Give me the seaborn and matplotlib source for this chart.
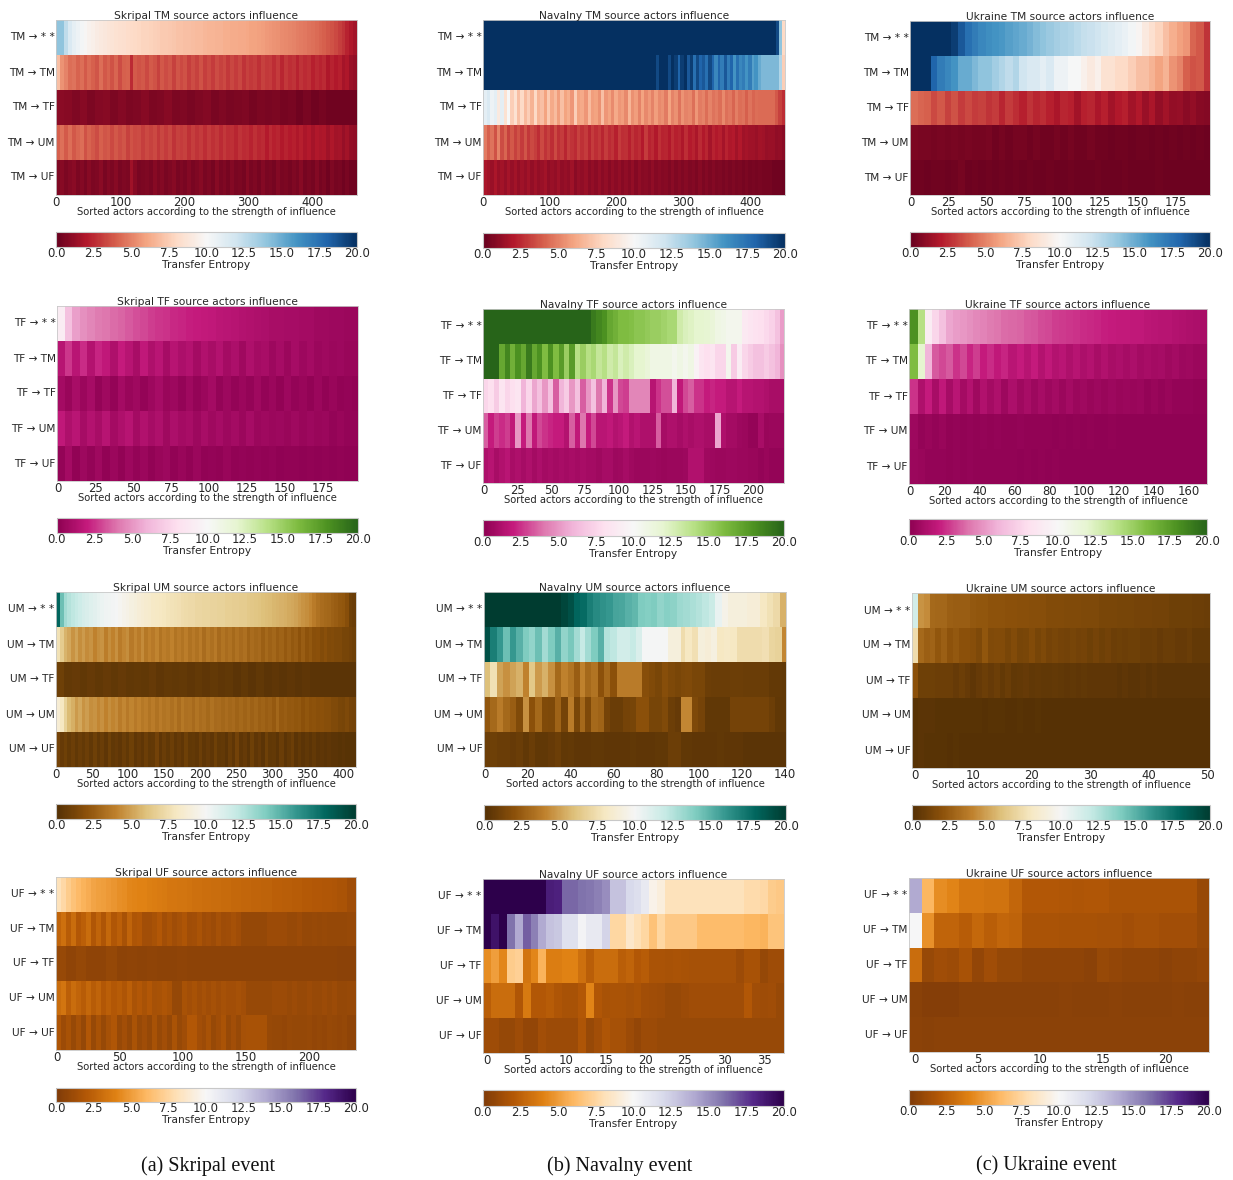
import numpy as np
import pandas as pd
import seaborn as sns
import matplotlib
matplotlib.use("Agg")
import matplotlib.pyplot as plt

# rows of each panel, values left to right
# wide panels are read as blocks of actors, a block value holds for its actors
SKRIPAL_TM_N = 470
SKRIPAL_TM = [
    [14,14,12.5,11.5,10.9,10.5,10.2,9.9,9.6,9.4,9.2,9,8.9,8.7,8.6,8.5,8.4,8.3,8.2,8.1,8,7.9,7.8,7.8,7.7,7.6,7.5,7.4,7.4,7.3,7.2,7.1,7.1,7,7,6.9,6.8,6.8,6.7,6.6,6.6,6.5,6.5,6.4,6.4,6.3,6.3,6.2,6.2,6.1,6,6,5.9,5.8,5.7,5.6,5.5,5.4,5.3,5.2,5.1,5,4.9,4.8,4.7,4.6,4.5,4.3,4.2,4,3.8,3.6,3.4,3.1,2.8,2.3,1.9,1.6],
    [7,5.5,5,4.4,4.6,4.1,4.4,3.9,4.3,4,3.7,4.4,3.8,4.1,3.6,4.2,3.5,4,4.1,2.5,3.9,3.6,3.8,3.4,3.9,3.6,3.2,3.8,3.5,3.7,3.2,3.7,3.4,3.6,3.1,3.5,3.2,3.6,3.1,3.4,3,3.5,3.2,3.4,2.9,3.3,3,3.3,2.8,3.2,2.9,3.1,2.7,3.2,2.9,3,2.6,3,2.4,2.9,2.6,2.8,2.3,2.8,2.5,2.7,2.2,2.5,2.3,2.5,1.9,2.3,2,2.2,1.7,1.9,1.4,1.2],
    [1,.9,.7,.9,.6,.8,.9,.6,.8,.6,.7,.9,.6,.7,.9,.6,.7,.5,.7,.8,.5,.7,.5,.6,.7,.4,.6,.5,.6,.4,.5,.3,.5,.3,.4,.3,.3,.3,.3],
    [4,4.5,3.9,4.4,3.8,4.2,4.4,3.6,4.1,3.8,3.5,4,3.7,3.9,3.4,3.8,3.5,3.7,3.2,3.6,3.4,3.5,3.1,3.4,3.2,3.4,2.9,3.3,3,3.3,2.8,3.2,3,3.2,2.7,3.1,2.8,3,2.6,3,2.7,2.9,2.5,2.9,2.6,2.7,2.4,2.8,2.5,2.6,2.3,2.7,2.4,2.5,2.1,2.5,2.2,2.4,2,2.3,2.1,2.2,1.9,2.2,1.8,2.1,1.7,2,1.8,1.9,1.5,1.9,1.6,1.7,1.3,1.6,1.2,1.1],
    [.7,.9,.6,.8,1,.6,.8,.5,.9,.6,.7,1,.5,.8,.6,.9,.5,.7,.6,1.5,.9,.5,.6,.7,.5,.9,.6,.8,.5,.7,.9,.5,.7,.5,.8,.5,.7,.9,.5,.7,.4,.9,.5,.7,.4,.8,.5,.6,.4,.9,.5,.7,.4,.8,.5,.6,.4,.8,.5,.6,.4,.7,.5,.9,.4,.6,.4,.8,.4,.6,.3,.7,.4,.5,.3,.5,.3,.3],
]
NAVALNY_TM_N = 453
NAVALNY_TM = [
    [20]*96 + [19,14,8],
    [20]*56 + [19,20,20,20,19,20,19.5,18,19.5,20,18.5,19.5,17.5,19,18,18.5,17.5,19,18,16.5,18,17,18.5,17,18,16,17.5,16.5,17,16,17,15.5,16,15,14.5,14.5,14.5,14.5,14.5,14.5,13,7.5],
    [11,11.5,10.5,11,9,11,8.5,10,7.5,8.5,7,8,6.8,7.5,6.5,8,6.6,7,6,7.4,6.2,6.8,5.8,7,6,6.4,5.6,7.5,6,6.2,5.6,6.8,5.8,6,5.4,7,5.6,6,5.3,6.2,5.6,5.8,5.2,6.6,5.4,5.8,5,6,5.2,5.7,5,5.8,5.2,5.4,4.8,6,5,5.4,4.6,5.5,5,5.2,4.5,5.6,4.8,5,4.4,5,4.6,4.8,4.4,5.2,4.5,4.7,4.2,4.9,4.4,4.6,4,4.6,4.2,4.4,4.3,4.3,4.3,4.3,4.3,3.8,3.2,2.6],
    [4.8,4,4.6,3.6,5,3.5,4.2,3.2,3.8,3.2,3.6,3,3.7,2.9,3.4,3.1,2.6,3.4,2.8,3.2,2.6,3.4,2.7,3,2.4,3.1,2.8,2.5,3.2,2.7,3,2.4,3,2.6,2.9,2.4,3,2.5,2.8,2.2,3,2.6,2.7,2.2,2.8,2.4,2.6,2.1,3,2.3,2.5,2,2.7,2.3,2.4,2,2.6,2.2,2.4,1.9,2.6,2.1,2.3,1.8,2.5,2,2.4,1.7,2.3,2,2.2,1.7,2.3,1.9,2.1,1.6,2,1.5,1.7,1.5,1.5,1.4,1.6,1.5,1.3,1.4,1.4,1.1,1.2,1],
    [1.8,1.6,1.4,1.8,1.4,1.6,1.3,1.7,1.3,1.6,1.2,1.5,1.3,1.6,1.2,1.5,1.2,1.4,1.6,1.1,1.4,1.2,1.5,1.1,1.3,1.1,1.5,1,1.3,1.1,1.4,1,1.2,1,1.3,1,1.2,.9,1.2,1,1.2,.9,1.1,.9,1.2,.8,1.1,.9,1,.8,1.1,.8,1,.8,.9,.7,1,.7,.9,.7,.9,.7,.8,.6,.9,.6,.8,.6,.8,.6,.7,.5,.7,.5,.7,.5,.6,.4,.6,.4,.5,.4,.5,.4,.4,.4,.3,.3,.3,.2],
]
UKRAINE_TM_N = 198
UKRAINE_TM = [
    [20,20,20,20,20,20,19.5,18.5,17.5,17,16.5,16.2,16,15.8,15.5,15.3,15,14.7,14.3,14,13.7,13.4,13.2,13,12.7,12.4,12.2,12,11.6,11.3,11,10.7,10.3,9.8,9,8.4,7.8,7,6.4,5.9,5.6,4.2,3.8,2.8],
    [20,20,20,18,17,16.5,16,15,15,14.5,14,14,13.5,13,12.5,13,12,11.5,11.5,11,11.5,10.5,10.5,10,10,9.5,9,9.5,8.5,8.5,8,8,7.5,7,7,6.5,6,6.5,5.5,5,4,3.6,3.8,2.8],
    [4.4,4.2,4,3.4,3.8,3.2,3.6,3,3.4,3,3.2,2.8,3,2.4,3,2.6,2.2,2.8,2.4,2.6,2.2,1.8,2.4,2.2,1.6,2.2,2.4,1.8,2.2,1.6,2,2.2,1.6,2,1.4,1.8,1.2,1.6,1.2,1.3,1,1.2,.9,.8],
    [.6,.5,.5,.4,.5,.4,.5,.4,.5,.4,.4,.5,.3,.4,.3,.4,.4,.3,.4,.3,.3,.4,.3,.4,.3,.3,.4,.3,.3,.2,.3,.3,.2,.3,.3,.2,.3,.2,.3,.2,.3,.2,.3,.2],
    [.3,.3,.2,.3,.3,.2,.3,.4,.2,.3,.2,.3,.2,.3,.2,.3,.2,.3,.2,.2,.3,.2,.2,.3,.2,.2,.2,.3,.2,.2,.2,.3,.2,.2,.2,.2,.3,.2,.2,.2,.2,.2,.2,.2],
]

SKRIPAL_TF_N = 199
SKRIPAL_TF = [
    [9,6.5,5.3,4.8,4.5,4.2,4,3.8,3.6,3.4,3.2,3,2.8,2.6,2.5,2.3,2.2,2.1,2,1.9,1.8,1.7,1.6,1.5,1.4,1.3,1.2,1.1,1,1,.9,.9,.8,.8,.7,.7,.6,.6,.5,.5],
    [1.5,2.6,1.6,2.4,1.4,2.2,1.8,1.2,2,1.5,1,1.8,1.2,1.6,.9,1.5,1.1,1.4,.8,1.3,1,1.4,.8,1.1,.7,1.2,.8,1,.6,.9,.5,.9,.6,.8,.5,.7,.5,.6,.4,.4],
    [.8,.4,1,.5,.9,.3,.7,.3,.8,.4,.7,.3,.6,.9,.4,.6,.3,.7,.3,.5,.8,.3,.6,.3,.5,.3,.7,.3,.5,.2,.6,.3,.4,.2,.5,.2,.4,.2,.3,.2],
    [1.8,1.2,1.6,.9,1.4,1,1.5,.8,1.2,1.5,.8,1.3,.9,1.2,.7,1.1,.8,1,.6,1,.7,.9,.6,.8,.5,.9,.5,.7,.5,.6,.4,.7,.4,.6,.4,.5,.3,.4,.3,.3],
    [.3,.8,.2,.6,.3,.7,.2,.5,.2,.6,.3,.5,.2,.4,.6,.2,.4,.2,.5,.2,.3,.2,.4,.2,.3,.2,.3,.2,.3,.1,.2,.2,.1,.2,.1,.2,.1,.2,.1,.1],
]
NAVALNY_TF_N = 223
NAVALNY_TF = [
    [20]*20 + [19,18.5,18,17,16.5,16,16,15.8,15.5,15.5,15.3,15,15,14.8,14.5,14.5,13,12.5,12.3,12,12,11.8,11.5,11,10.8,10.5,10.5,10.5,8.8,8.5,8.2,8,7.7,7.3,6.5,5.2],
    [20,20,20,17,18.5,16.5,18,17,19,17,18,16,18,16,17.5,15,17.5,14,15,14,14.5,13.5,14,13,13.5,12.5,13,12.5,12,12,11.5,11,11,11,11,10.5,11,10.5,11,9.5,8.5,8,8.5,7.5,7.5,10.5,7,9,7.5,7,6.5,6.5,7,6.5,6,4.8],
    [7.5,8,7,8.5,7.5,8,8.5,6,7.5,5.5,6.5,5,6.5,3.5,6,7,5,6.5,3.5,5,6.5,4,6,2.5,5,3,2.8,4.5,4.5,4.5,4.5,1.5,2.5,3.2,3.2,6,1.8,3,3.5,2.5,2.5,2,2.2,2,2,1.5,1.5,2,1.5,1.5,1.4,1.4,1.2,1,1,1],
    [3.5,2,2.8,2.4,2.8,1.8,5,2,4,1.8,3,2.5,2.2,2,2,1.4,3.5,1.8,4,2,3,1.6,1.6,1.8,1.4,1.6,2,1.3,1.6,1.2,1.2,1.2,3.5,.9,1.2,1.2,.9,1.2,1,1.2,1.2,1,1,5.5,1.2,.8,.8,.6,.5,.3,.3,1,.4,.5,.5,.4],
    [1.2,1.5,1,1.3,1.6,1,1.2,.9,1.2,.8,1.1,.8,1,.8,1,.8,1,.8,1,.8,.8,.7,.9,.9,.6,.7,.9,.7,.5,.5,.5,.6,.5,.4,.5,.5,.5,.6,1.3,1.3,1.3,.7,.6,.5,.5,.6,.6,.5,.5,.4,.4,.3,.4,.3,.3,.3],
]
UKRAINE_TF_N = 171
UKRAINE_TF = [
    [18,14,9,7.5,6.5,5.5,5.2,5,4.8,4.6,4.4,4.2,4,3.8,3.7,3.6,3.4,3.3,3.1,3,2.8,2.7,2.6,2.5,2.4,2.3,2.2,2.1,2,1.9,1.9,1.8,1.8,1.7,1.6,1.5,1.5,1.4,1.3,1.2,1.1,1],
    [16,12,6,3.4,3,3.4,2.5,3,2.2,2.8,2,2.4,1.8,2.2,1.6,2,1.5,2,1.4,1.8,1.4,1.6,1.2,1.5,1.1,1.4,1,1.3,1,1.1,.9,1.1,.8,1,.8,.9,.7,.8,.6,.7,.5,.5],
    [2.5,1.2,2,1,1.8,.9,1.6,.8,1.4,.7,1.3,.8,1.2,.6,1.1,.7,1,.6,.9,.6,.8,.5,.8,.5,.7,.4,.6,.4,.6,.4,.5,.4,.5,.3,.4,.3,.4,.3,.3,.3,.2,.2],
    [.6,.3,.4,.3,.4,.2,.3,.2,.3,.2,.3,.2,.3,.2,.2,.3,.2,.2,.2,.2,.1,.2,.1,.2,.1,.2,.1,.1,.2,.1,.1,.1,.1,.1,.1,.1,.1,.1,.1,.1,.1,.1],
    [.5,.4,.3,.3,.3,.2,.3,.2,.3,.2,.2,.2,.2,.2,.2,.1,.2,.1,.2,.1,.2,.1,.1,.1,.1,.1,.1,.1,.1,.1,.1,.1,.1,.1,.1,.1,.1,.1,.1,.1,.1,.1],
]

SKRIPAL_UM_N = 418
SKRIPAL_UM = [
    [18,14.5,13,12.5,12.2,12,11.7,11.4,11.2,11,10.8,10.6,10.4,10.3,10.2,10.1,10,9.8,9.6,9.4,9.2,9,8.8,8.6,8.5,8.4,8.2,8.1,8,7.9,7.8,7.7,7.6,7.5,7.4,7.3,7.2,7.2,7.1,7.1,7,7,6.9,6.9,6.8,6.8,6.7,6.7,6.6,6.6,6.5,6.5,6.4,6.3,6.2,6.1,6,5.9,5.8,5.7,5.6,5.5,5.4,5.3,5.2,5,4.8,4.6,4.4,4.2,3.8,3.4,3.2,3,2.9,2.7,2.5,2.3,2.2,1.8,1,.8],
    [7.6,6.5,5.6,5.2,4.6,5,4.4,4.8,4.3,4.6,4,4.4,4.6,3.9,4.4,4,4.5,3.8,4.2,4.4,3.7,4.2,3.8,4.3,3.6,4,3.7,4.1,3.5,3.9,3.6,4,3.5,3.8,3.5,3.9,3.4,3.7,3.4,3.8,3.2,3.6,3.3,3.7,3.1,3.5,3.2,3.4,3,3.4,3.1,3.3,2.8,3.2,2.9,3.1,2.6,3,2.7,2.9,2.5,2.8,2.4,2.7,2.3,2.5,2.1,2.5,2.1,2.3,1.9,2,1.7,1.9,1.6,1.7,1.5,1.5,1.3,1.3,1.1,1],
    [1,.6,.7,.5,.7,.5,.7,.5,.7,.5,.6,.5,.7,.4,.6,.5,.6,.4,.6,.4,.6,.4,.5,.3,.5,.3,.5,.3,.4,.3,.4,.3,.4,.3,.3,.3,.3,.3,.3],
    [8.6,8,6.8,5.8,5.4,4.8,5.2,4.6,4.9,4.4,4.6,4.2,4.5,4,4.4,4.1,4.3,3.8,4.2,3.7,4.1,3.7,4,3.6,3.9,3.5,3.8,3.4,3.8,3.5,3.6,3.3,3.6,3.2,3.6,3.3,3.4,3.1,3.5,3.2,3.3,3,3.4,3.1,3.2,2.9,3.2,2.9,3.1,2.8,3,2.8,3,2.7,2.9,2.6,2.8,2.5,2.7,2.4,2.9,2.4,2.5,2.3,2.4,2.2,2.3,2,2.2,2,2.1,1.9,2,1.8,1.8,1.6,1.6,1.4,1.3,1.5,1.2,1.1],
    [1.2,.7,1,.6,.9,.5,.8,.6,.9,.5,1,.5,.8,.4,1,.5,.7,.4,.8,.5,1,.4,.7,.4,.9,.5,.6,1.1,.4,.8,.5,.9,.4,.7,.4,1,.5,.6,.4,.9,.4,.7,.4,1,.5,.6,.3,.8,.4,1.1,.4,.7,.3,1,.4,.7,.3,1,.5,.6,.3,.8,.3,.6,.9,.3,.6,.3,.5,.3,.6,.3,.4,.3,.4,.3,.3,.2,.3,.2,.2,.2],
]
NAVALNY_UM_N = 141
NAVALNY_UM = [
    [20]*12 + [19.5,19,18,17.8,17,16.5,16.2,16,15.5,15.4,15,14.8,14,13.9,14,13.5,13.8,13.6,13.2,13,12.8,12.5,12.2,11.8,10.5,9.5,9,9,9,8.8,8.8,8,7.6,7.2,5.5],
    [19,17,16,14.5,16,15,14,13.5,14.5,13,14,15,13.5,14.2,13,12,13,14,15,12.5,12.2,11.5,11.5,12,11.2,10,10,10,10,9,9,7.4,8,7.5,9,8.8,9.2,8,8.2,8,7.4,7.4,7.4,7.4,7.5,7,6.8,4.2],
    [6,7.6,5,4.5,5,5.5,4,6.4,4.8,5.5,4.5,3,4,3.5,2.5,4,3,3.5,2,3,2,3.8,3.8,3.8,3.8,1.8,1.6,1.4,1.8,1.5,1.4,1.5,1.6,1.4,1.4,.9,.8,.8,.8,.9,.9,.8,.8,.8,.8,.6,.6,.5],
    [2.2,3,3.8,3,2.5,1.6,4.5,2,3,1.6,1.5,2.8,1.2,3.8,1.4,3,1.5,3,2.8,1.2,.8,.8,1.2,1.3,2,2,1.3,1.3,1.6,.9,.7,4.2,4.2,1.5,1.2,.5,.5,.5,.5,1.2,1.2,1.2,1.2,1.2,1.2,.9,.5,.5],
    [.9,1,.8,.8,.7,.8,.5,.8,.5,.5,.7,.9,.5,.6,.4,.4,.4,.5,.5,.4,.4,.4,.4,.5,.4,.4,.4,.5,.5,.9,.9,.5,.5,.4,.4,.4,.4,.5,.4,.4,.4,.3,.3,.3,.3,.3,.3,.3],
]
UKRAINE_UM_N = 51
UKRAINE_UM = [
    [11.5,4.6,4.3,3,2.9,2.9,2.6,2.5,2.5,2.5,2.3,2.2,2.2,2.1,2.1,2.1,2,2,1.9,1.9,1.8,1.8,1.8,1.7,1.7,1.7,1.6,1.6,1.6,1.5,1.5,1.5,1.4,1.4,1.4,1.3,1.3,1.3,1.2,1.2,1.2,1.1,1.1,1.1,1,1,1,1,.9,.9,.8],
    [7.4,3,2.6,2.8,2.2,2.6,2.1,2.3,2,2,1.8,1.5,2.2,1.6,1.7,1.7,1.4,1.7,1.3,1.4,1.7,1.3,1.5,1.2,1.4,1.2,1.1,1.3,1.1,1.2,1,1.2,1,1.1,.9,1,.9,1,1,.8,.8,.9,.7,.8,.8,.7,.7,.8,.6,.6,.6],
    [2,1,1,1,.9,.9,.9,.7,.9,.7,.4,.7,.9,.7,.9,.6,.8,.5,.6,.7,.5,.6,.5,.5,.6,.5,.4,.5,.4,.5,.4,.4,.4,.4,.4,.3,.4,.3,.3,.4,.3,.4,.3,.3,.3,.3,.3,.3,.3,.3,.3],
    [.2,.3,.3,.3,.2,.2,.2,.2,.2,.2,.2,.2,.1,.2,.2,.2,.1,.1,.2,.1,.1,.2,.1,.1,.1,.1,.1,.1,.1,.1,.1,.1,.1,.1,.1,.1,.1,.1,.1,.1,.1,.1,.1,.1,.1,.1,.1,.1,.1,.1,.1],
    [.2,.3,.2,.2,.2,.2,.1,.2,.1,.1,.1,.1,.1,.1,.1,.1,.1,.1,.1,.1,.1,.1,.1,.1,.1,.1,.1,.1,.1,.1,.1,.1,.1,.1,.1,.1,.1,.1,.1,.1,.1,.1,.1,.1,.1,.1,.1,.1,.1,.1,.1],
]

SKRIPAL_UF_N = 238
SKRIPAL_UF = [
    [8.2,7.6,7,6.5,6.1,5.8,5.6,5.3,5.1,5,4.9,4.7,4.5,4.4,4.2,4.1,4,4,3.9,3.8,3.7,3.6,3.5,3.5,3.4,3.4,3.3,3.2,3.2,3.1,3.1,3,3,2.9,2.9,2.8,2.8,2.7,2.7,2.6,2.6,2.5,2.5,2.4,2.4,2.3,2.3,2.2,2.2,2.1,2.1,2,2,1.9,1.9,1.8,1.7,1.7,1.3,1.3],
    [2.6,3.2,2.2,3,2,2.4,3,1.9,2.6,1.8,2.8,1.9,2.4,1.6,2.6,1.8,2,1.4,1.4,1.6,2,1.4,1.7,1.3,1.5,1.8,1.3,1.4,1.7,1.2,1.4,1.1,1.5,1.2,1.3,1.5,1.3,.9,.9,.9,.9,.9,1.1,1.1,1.1,1.1,1,1,1.1,.9,.9,1,.9,1,.9,.9,.9,.9,1,1],
    [1,.7,.9,.7,.7,.9,.6,.7,.6,.7,.6,.6,.7,.6,.6,.6,.6,.6,.6,.6,.6,.6,.6,.6,.6,.6,.6,.6,.5,.5],
    [3,3.4,2.4,3,2.6,2.2,2.8,2.2,2.6,2,2.4,2,2.2,1.8,2.4,1.7,2,1.6,2,1.5,1.6,1.8,1.6,.9,.9,1.6,1.4,1.6,1.3,1.5,1.3,1.5,1.3,1.5,1.4,1.4,1.5,1.4,1,1,1,1,1,1.1,1.1,1.1,1,1.1,1,1,1.1,1,1,1.1,1,1.1,.9,.9,1,1],
    [1.8,1.1,1.6,1,1.5,.9,2,1,1.6,1,1.5,1.9,1,1.4,.9,1.7,1,1.3,.9,1.6,1,1.4,.9,1.7,1,1.3,2,2,1.4,1.1,1.6,1,1.3,1.7,1,1.4,1,1.5,1.6,1.6,1.6,1.6,1,.9,.9,.8,1,.9,.9,.9,1,.8,.9,.8,1,.9,.8,.9,.7,.7],
]
NAVALNY_UF_N = 38
NAVALNY_UF = [
    [20,20,20,20,20,20,20,20,18.5,18.3,16.3,16.3,16,15.8,15.5,15,13,13,12,11.7,11,9.6,9.2,8.2,8.2,8.2,8.2,8.2,8.2,8.2,8.2,8.2,8.2,7.8,7.8,7.6,7,6.8],
    [20,19,20,16,14,16.5,15.5,14,13,12.8,11.5,11.5,10.3,11,11,12.2,7.5,7.5,8.6,8,7.5,6.5,7.5,6.8,6.8,6.8,6.8,6.2,6.2,6.2,6.2,6.2,6.2,6,6,5.8,6.6,6.6],
    [4.4,5,4.2,7,7.2,3.4,4.2,5.8,3.8,3.8,4,4,3.2,2.3,3,3,3,2.3,2.6,2,2.2,1.7,1.7,1.6,1.7,1.6,1.5,1.5,1.5,1.5,1.5,1.5,1.1,1.6,1.6,.9,1.2,1.2],
    [2.3,3,3,3,1.9,3.6,2,2,2.2,1.8,1.6,1.6,2,4.1,1.9,1.6,1.7,1.7,1.5,1.7,1.4,1.3,1.2,1,1,1.1,1.3,1.3,1.3,1.3,1.3,1.3,1.3,2,1.3,1.2,1.3,1],
    [1.2,1.2,.9,.9,1.2,.8,.8,1.4,1.1,1.1,1.1,1.1,1.8,1,1.4,1.8,1.5,1.5,1.1,.8,1.1,1.1,1,1,1,1,1,1,1,1,1,1,1,1,1,1,1,1],
]
UKRAINE_UF_N = 24
UKRAINE_UF = [
    [14,6,4.4,4.1,3.5,3.5,3.3,3.3,2.7,2,2,2,1.9,1.8,1.9,1.9,1.7,1.7,1.7,1.7,1.7,1.7,1.7,1],
    [10,4.6,2.6,2.6,2.2,2.8,2.3,2.7,2.5,1.7,1.7,1.7,1.6,1.6,1.6,1.5,1.5,1.4,1.5,1.5,1.4,1.4,1.4,1],
    [3,1,1.3,1.1,1.6,.8,1.3,.9,.9,.7,.7,.7,.7,.7,.5,1,.8,.7,.7,.7,.5,.7,.7,.8],
    [.4,.3,.3,.3,.4,.4,.4,.4,.4,.4,.4,.4,.5,.4,.4,.4,.5,.4,.4,.4,.4,.5,.4,.4],
    [.5,.4,.5,.5,.5,.5,.5,.5,.5,.5,.5,.5,.5,.5,.5,.5,.5,.5,.5,.5,.5,.5,.5,.5],
]

TM_TICKS = {"Skripal": [0, 100, 200, 300, 400], "Navalny": [0, 100, 200, 300, 400], "Ukraine": [0, 25, 50, 75, 100, 125, 150, 175]}
TF_TICKS = {"Skripal": [0, 25, 50, 75, 100, 125, 150, 175], "Navalny": [0, 25, 50, 75, 100, 125, 150, 175, 200], "Ukraine": [0, 20, 40, 60, 80, 100, 120, 140, 160]}
UM_TICKS = {"Skripal": [0, 50, 100, 150, 200, 250, 300, 350, 400], "Navalny": [0, 20, 40, 60, 80, 100, 120, 140], "Ukraine": [0, 10, 20, 30, 40, 50]}
UF_TICKS = {"Skripal": [0, 50, 100, 150, 200], "Navalny": [0, 5, 10, 15, 20, 25, 30, 35], "Ukraine": [0, 5, 10, 15, 20]}
CB_TICKS = [0, 2.5, 5, 7.5, 10, 12.5, 15, 17.5, 20]
TARGETS = ["* *", "TM", "TF", "UM", "UF"]
CAPTIONS = ["(a) Skripal event", "(b) Navalny event", "(c) Ukraine event"]
W, H = 1233, 1180


def hold(values, n):
    # each read value stays for its share of the actors
    return np.array(values, dtype=float)[np.arange(n) * len(values) // n]


def px_axes(x0, x1, y0, y1):
    return fig.add_axes([x0 / W, 1 - y1 / H, (x1 - x0) / W, (y1 - y0) / H])


sns.set_theme(style="white")
plt.rcParams["text.color"] = "#262626"
fig = plt.figure(figsize=(W / 100, H / 100), dpi=100)

# event, source, rows, n, ticks, colormap, heatmap box, colorbar y
panels = [
    ("Skripal", "TM", SKRIPAL_TM, SKRIPAL_TM_N, TM_TICKS, "RdBu", (56, 357, 20, 195), (232, 247)),
    ("Navalny", "TM", NAVALNY_TM, NAVALNY_TM_N, TM_TICKS, "RdBu", (483, 785, 20, 195), (233, 248)),
    ("Ukraine", "TM", UKRAINE_TM, UKRAINE_TM_N, TM_TICKS, "RdBu", (910, 1210, 21, 195), (232, 247)),
    ("Skripal", "TF", SKRIPAL_TF, SKRIPAL_TF_N, TF_TICKS, "PiYG", (57, 358, 306, 481), (518, 533)),
    ("Navalny", "TF", NAVALNY_TF, NAVALNY_TF_N, TF_TICKS, "PiYG", (483, 784, 309, 483), (520, 536)),
    ("Ukraine", "TF", UKRAINE_TF, UKRAINE_TF_N, TF_TICKS, "PiYG", (909, 1207, 309, 484), (519, 535)),
    ("Skripal", "UM", SKRIPAL_UM, SKRIPAL_UM_N, UM_TICKS, "BrBG", (56, 356, 592, 767), (804, 819)),
    ("Navalny", "UM", NAVALNY_UM, NAVALNY_UM_N, UM_TICKS, "BrBG", (484, 786, 592, 767), (805, 820)),
    ("Ukraine", "UM", UKRAINE_UM, UKRAINE_UM_N, UM_TICKS, "BrBG", (912, 1210, 593, 768), (805, 820)),
    ("Skripal", "UF", SKRIPAL_UF, SKRIPAL_UF_N, UF_TICKS, "PuOr", (56, 356, 877, 1050), (1088, 1102)),
    ("Navalny", "UF", NAVALNY_UF, NAVALNY_UF_N, UF_TICKS, "PuOr", (483, 784, 879, 1053), (1090, 1106)),
    ("Ukraine", "UF", UKRAINE_UF, UKRAINE_UF_N, UF_TICKS, "PuOr", (909, 1209, 878, 1052), (1090, 1105)),
]

for event, source, rows, n, ticks, cmap, box, cb_y in panels:
    labels = [f"{source} → {t}" for t in TARGETS]
    table = pd.DataFrame([hold(r, n) for r in rows], index=labels)
    ax = px_axes(*box)
    cax = px_axes(box[0], box[1], cb_y[0], cb_y[1])
    sns.heatmap(table, ax=ax, cmap=cmap, vmin=0, vmax=20, cbar_ax=cax,
                cbar_kws={"orientation": "horizontal", "ticks": CB_TICKS, "format": "%.1f"},
                rasterized=True)
    ax.set_title(f"{event} {source} source actors influence", fontsize=7.7, pad=1)
    ax.set_xticks(np.array(ticks[event]) + 0.5)
    ax.set_xticklabels(ticks[event], rotation=0)
    ax.tick_params(axis="x", length=0, pad=0.6, labelsize=8.4, colors="#262626")
    ax.tick_params(axis="y", length=0, pad=1, labelsize=7.6, rotation=0, colors="#262626")
    ax.set_xlabel("Sorted actors according to the strength of influence", fontsize=7.2, labelpad=-1.5)
    ax.set_ylabel("")
    for spine in ax.spines.values():
        spine.set_visible(True)
        spine.set_edgecolor("#c8c8c8")
        spine.set_linewidth(0.6)
    cax.tick_params(length=0, pad=0.1, labelsize=8.4, colors="#262626")
    cax.set_xlabel("Transfer Entropy", fontsize=7.7, labelpad=0)
    cbar = ax.collections[0].colorbar
    cbar.outline.set_edgecolor("#c8c8c8")
    cbar.outline.set_linewidth(0.8)

for x, caption in zip([208, 620, 1046], CAPTIONS):
    fig.text(x / W, 1 - 1166 / H, caption, ha="center", va="center",
             family="Liberation Serif", fontsize=14.5, color="#111111")

fig.savefig("out.png", dpi=100)
